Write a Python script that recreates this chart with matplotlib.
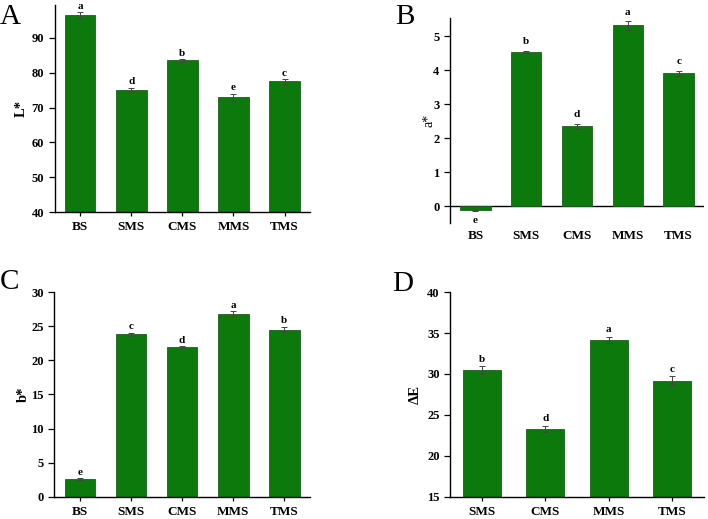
import numpy as np
import matplotlib.pyplot as plt

plt.rcParams['font.family'] = ['Liberation Serif', 'DejaVu Serif']

## DATA
groups5 = ['BS', 'SMS', 'CMS', 'MMS', 'TMS']
groups4 = ['SMS', 'CMS', 'MMS', 'TMS']

L_mean = [96.5, 75.1, 83.5, 72.9, 77.5]
L_err = [0.8, 0.6, 0.3, 1.1, 0.7]
L_sig = ['a', 'd', 'b', 'e', 'c']

a_mean = [-0.13, 4.53, 2.34, 5.31, 3.90]
a_err = [0.02, 0.04, 0.08, 0.12, 0.07]
a_sig = ['e', 'b', 'd', 'a', 'c']

b_mean = [2.55, 23.8, 21.9, 26.85, 24.5]
b_err = [0.15, 0.25, 0.15, 0.35, 0.4]
b_sig = ['e', 'c', 'd', 'a', 'b']

dE_mean = [30.45, 23.3, 34.2, 29.2]
dE_err = [0.5, 0.35, 0.35, 0.5]
dE_sig = ['b', 'd', 'a', 'c']

green = '#0b790b'


def bar_panel(ax, labels, mean, err, sig, ylim, yticks, ylabel, off, lab_x):
    x = np.arange(len(labels))
    ax.bar(x, mean, width=0.6, color=green, edgecolor='#1e5e1e', linewidth=0.6, zorder=2)
    ax.errorbar(x, mean, yerr=err, fmt='none', ecolor='#444444', elinewidth=0.7,
                capsize=2.5, capthick=0.7, zorder=3)
    for xi, m, e, s in zip(x, mean, err, sig):
        if m >= 0:
            ax.text(xi, m + e + off, s, ha='center', va='bottom', fontsize=8, fontweight='bold')
        else:
            ax.text(xi, m - e - off, s, ha='center', va='top', fontsize=8, fontweight='bold')
    ax.set_xlim(-0.5, len(labels) - 0.5)
    ax.set_ylim(*ylim)
    ax.set_yticks(yticks)
    ax.set_xticks(x)
    ax.set_xticklabels(labels, fontsize=9.5, fontweight='bold')
    for t in ax.get_yticklabels():
        t.set_fontweight('bold')
        t.set_fontsize(9)
    ax.set_ylabel(ylabel, fontsize=10.5, fontweight='bold')
    ax.yaxis.set_label_coords(lab_x, 0.5)
    ax.spines['top'].set_visible(False)
    ax.spines['right'].set_visible(False)
    ax.tick_params(axis='y', direction='out', length=4, width=0.9)
    ax.tick_params(axis='x', direction='out', length=3, width=0.9)
    ax.spines['left'].set_linewidth(1.0)
    ax.spines['bottom'].set_linewidth(1.0)


fig = plt.figure(figsize=(7.08, 5.19), dpi=100)

axA = fig.add_axes([0.077, 0.5915, 0.361, 0.398])
bar_panel(axA, groups5, L_mean, L_err, L_sig, (40, 99.3), np.arange(40, 91, 10), 'L*', 0.4, -0.104)

axB = fig.add_axes([0.6356, 0.5703, 0.3588, 0.395])
bar_panel(axB, groups5, a_mean, a_err, a_sig, (-0.5, 5.53), np.arange(0, 6, 1), 'a*', 0.14, -0.058)
axB.spines['bottom'].set_visible(False)
axB.axhline(0, color='black', linewidth=1.0, zorder=1)
axB.tick_params(axis='x', length=0, pad=5)
axB.set_ylabel('a*', fontsize=10, fontweight='normal')

axC = fig.add_axes([0.0767, 0.043, 0.361, 0.394])
bar_panel(axC, groups5, b_mean, b_err, b_sig, (0, 30), np.arange(0, 31, 5), 'b*', 0.25, -0.095)

axD = fig.add_axes([0.6356, 0.043, 0.3588, 0.394])
bar_panel(axD, groups4, dE_mean, dE_err, dE_sig, (15, 40), np.arange(15, 41, 5), 'ΔE', 0.3, -0.11)

fig.text(0.0, 0.992, 'A', fontsize=21, va='top', ha='left')
fig.text(0.558, 0.992, 'B', fontsize=21, va='top', ha='left')
fig.text(0.0, 0.482, 'C', fontsize=21, va='top', ha='left')
fig.text(0.554, 0.478, 'D', fontsize=21, va='top', ha='left')

plt.savefig('out.png', dpi=100)
